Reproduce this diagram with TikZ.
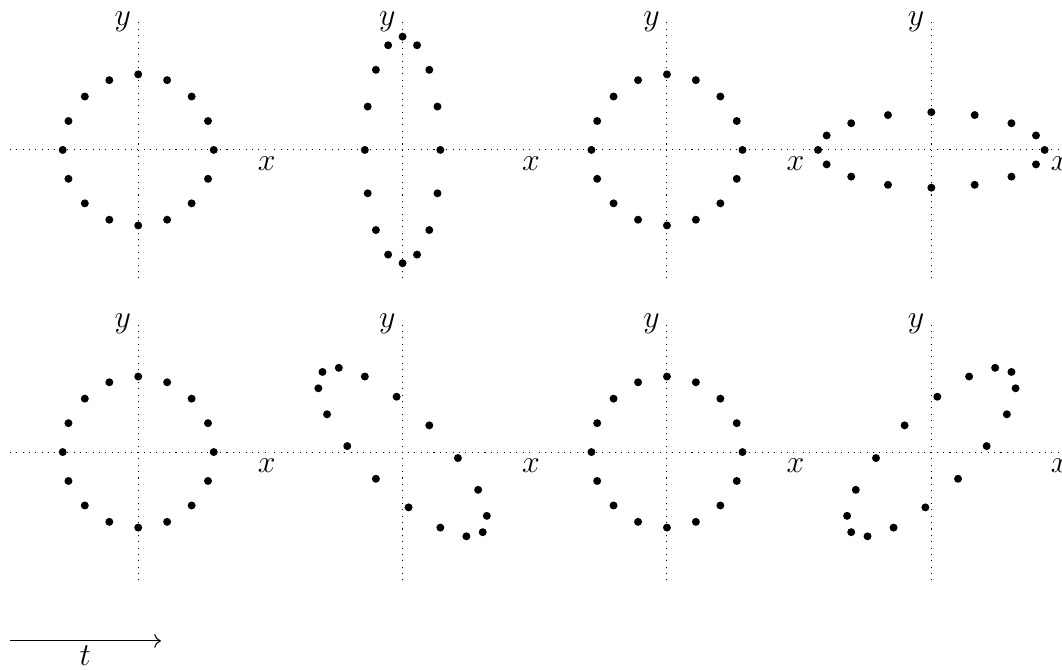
\documentclass[12pt,tikz,border=0pt]{standalone}
\usepackage{amsmath,amssymb}
\usepackage{tikz}
\usetikzlibrary{arrows.meta, positioning, calc}

\begin{document}
\begin{tikzpicture}[
      axis/.style={dotted},
      particle/.style={fill=black},
      arr/.style={->}
    ]
    \useasboundingbox (-1.83,1.985) rectangle (12.23,-6.885);

    % one panel per column, two rows (plus and cross)
    \foreach \col/\row/\a/\b/\c/\d in {0/0/1/0/0/1, 1/0/0.5/0/0/1.5, 2/0/1/0/0/1, 3/0/1.5/0/0/0.5,
                                         0/1/1/0/0/1, 1/1/1/-0.5/-0.5/1, 2/1/1/0/0/1, 3/1/1/0.5/0.5/1} {
      \coordinate (c\col\row) at (3.5*\col, -4*\row);
      \coordinate (xl\col\row) at ($(c\col\row)+(-1.7,0)$);
      \coordinate (xr\col\row) at ($(c\col\row)+(1.7,0)$);
      \coordinate (yb\col\row) at ($(c\col\row)+(0,-1.7)$);
      \coordinate (yt\col\row) at ($(c\col\row)+(0,1.7)$);
      \draw[axis] (xl\col\row) -- (xr\col\row);
      \draw[axis] (yb\col\row) -- (yt\col\row);
      \node[below, inner sep=2.5pt] (xlab\col\row) at (xr\col\row) {$x$};
      \node[left, inner sep=2.5pt]  (ylab\col\row) at (yt\col\row) {$y$};
      \foreach \t in {0,22.5,...,337.5}
        \fill[particle] ($(c\col\row)+({\a*cos(\t)+\b*sin(\t)},{\c*cos(\t)+\d*sin(\t)})$) circle (1.5pt);
    }

    % time arrow
    \coordinate (tstart) at (-1.7,-6.5);
    \coordinate (tend) at (0.3,-6.5);
    \draw[arr] (tstart) -- node[below, inner sep=1.5pt] (tlab) {$t$} (tend);
  \end{tikzpicture}
\end{document}
